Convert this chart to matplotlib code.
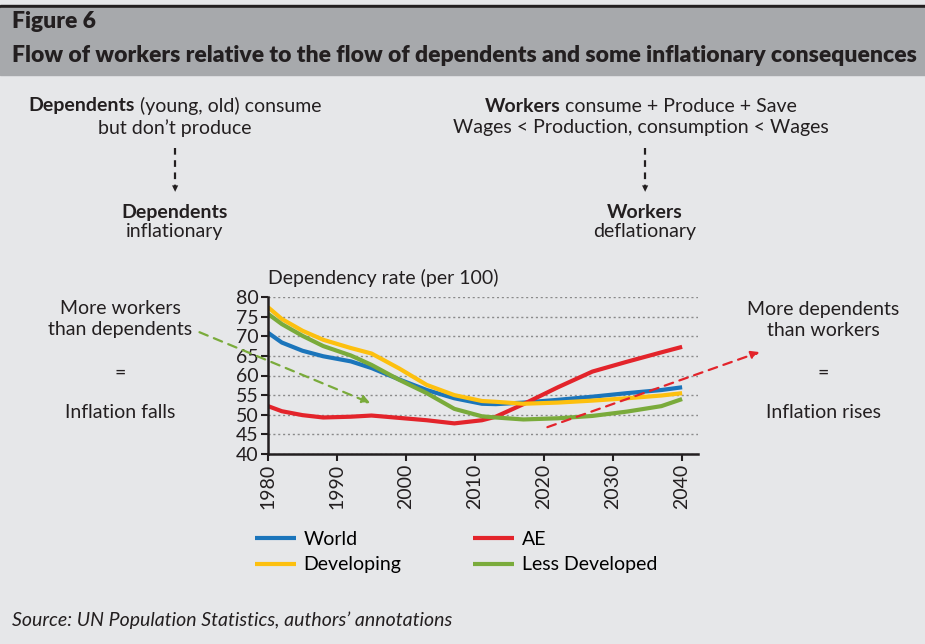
'''
Figure 6: dependency rates with annotations on workers vs dependents
'''
import numpy as np
import matplotlib.pyplot as plt

plt.rcParams['font.family'] = ['Lato', 'DejaVu Sans']

# Data
years = [1980, 1982, 1985, 1988, 1992, 1995, 1999, 2003, 2007, 2011,
         2013, 2017, 2022, 2027, 2032, 2037, 2040]
world = [70.9, 68.4, 66.3, 64.9, 63.6, 61.9, 59.0, 56.3, 54.2, 52.8,
         52.7, 53.1, 53.8, 54.6, 55.5, 56.3, 57.0]
ae = [52.2, 50.9, 49.9, 49.3, 49.5, 49.8, 49.2, 48.6, 47.8, 48.6,
      49.5, 52.7, 57.0, 61.0, 63.5, 65.9, 67.3]
developing = [77.4, 74.4, 71.4, 69.1, 67.0, 65.6, 61.8, 57.6, 55.0, 53.5,
              53.3, 52.8, 53.1, 53.6, 54.2, 54.9, 55.5]
less_dev = [75.7, 73.1, 70.1, 67.5, 65.1, 62.7, 58.9, 55.5, 51.5, 49.6,
            49.3, 48.8, 49.1, 49.7, 50.8, 52.2, 54.0]
series_names = ['World', 'AE', 'Developing', 'Less Developed']
colors = ['#1b75bb', '#e3242b', '#fdc00f', '#7aab3b']

bg = '#e6e7e9'
tc = '#231f20'
FS = 14
W, H = 925, 644
fig = plt.figure(figsize=(9.25, 6.44), dpi=100, facecolor=bg)

# header band
fig.patches.append(plt.Rectangle((0, 1 - 8/H), 1, 3/H, transform=fig.transFigure,
                                 color=tc, zorder=0))
fig.patches.append(plt.Rectangle((0, 1 - 75/H), 1, 67/H, transform=fig.transFigure,
                                 color='#a7a9ac', zorder=0))
fig.text(12/W, 1 - 22/H, 'Figure 6', fontsize=16.5, fontweight='heavy',
         color=tc, va='center')
fig.text(12/W, 1 - 56/H,
         'Flow of workers relative to the flow of dependents and some inflationary consequences',
         fontsize=16.5, fontweight='heavy', color=tc, va='center')

# main axes
ax = fig.add_axes([268/W, 1 - 454/H, 430/W, 157/H])
ax.set_facecolor(bg)
for vals, name, c in zip([world, ae, developing, less_dev], series_names, colors):
    ax.plot(years, vals, color=c, lw=3, label=name, solid_capstyle='butt')

ax.set_xlim(1980, 2042.3)
ax.set_ylim(40, 80)
ax.set_yticks(np.arange(40, 81, 5))
ax.set_xticks(np.arange(1980, 2041, 10))
ax.set_xticklabels([str(y) for y in range(1980, 2041, 10)], rotation=90)
ax.tick_params(labelsize=FS, colors=tc, length=5, width=1.5, direction='out', pad=2)
ax.yaxis.grid(True, linestyle=(0, (1.5, 2)), color='#8a8a8a', lw=1)
ax.set_axisbelow(True)
for s in ['top', 'right']:
    ax.spines[s].set_visible(False)
for s in ['left', 'bottom']:
    ax.spines[s].set_linewidth(1.8)
    ax.spines[s].set_color(tc)
ax.text(0, 1.065, 'Dependency rate (per 100)', transform=ax.transAxes, fontsize=FS,
        color=tc, ha='left', va='bottom')

# dashed trend arrows
ax.annotate('', xy=(1995.2, 52.7), xytext=(1969.7, 71.3), annotation_clip=False,
            arrowprops=dict(arrowstyle='-|>', color='#7aab3b', lw=1.6, ls=(0, (4, 3)),
                            mutation_scale=12))
ax.annotate('', xy=(2051.6, 66.2), xytext=(2020.1, 46.6), annotation_clip=False,
            arrowprops=dict(arrowstyle='-|>', color='#e3242b', lw=1.6, ls=(0, (4, 3)),
                            mutation_scale=12))

# legend: two columns placed separately
lines = ax.get_lines()
for hs, labs, x in [([lines[0], lines[2]], ['World', 'Developing'], 255),
                    ([lines[1], lines[3]], ['AE', 'Less Developed'], 473)]:
    fig.legend(hs, labs, loc='center left', bbox_to_anchor=(x/W, 1 - 552/H),
               frameon=False, fontsize=FS, handlelength=2.1, handletextpad=0.4,
               labelspacing=0.45, borderpad=0, borderaxespad=0)


# annotations
def line(x, y, s, **kw):
    fig.text(x/W, 1 - y/H, s, ha='center', va='center', fontsize=FS, color=tc, **kw)


def mixed(xc, y, bold, rest):
    # bold word followed by regular text, centred on xc
    r = fig.canvas.get_renderer()
    t1 = fig.text(0, 1 - y/H, bold, fontweight='bold', fontsize=FS, color=tc, va='center')
    t2 = fig.text(0, 1 - y/H, ' ' + rest, fontsize=FS, color=tc, va='center')
    w1 = t1.get_window_extent(r).width
    w2 = t2.get_window_extent(r).width
    x0 = xc - (w1 + w2) / 2
    t1.set_x(x0/W)
    t2.set_x((x0 + w1)/W)


mixed(175, 106, 'Dependents', '(young, old) consume')
line(175, 128, 'but don\u2019t produce')
line(175, 212, 'Dependents', fontweight='bold')
line(175, 232, 'inflationary')

mixed(641, 106, 'Workers', 'consume + Produce + Save')
line(641, 128, 'Wages < Production, consumption < Wages')
line(645, 212, 'Workers', fontweight='bold')
line(645, 232, 'deflationary')

for x in [175, 645]:
    fig.add_artist(plt.Line2D([x/W, x/W], [1 - 148/H, 1 - 186/H], color=tc,
                              lw=1.6, ls=(0, (3, 2.5)), transform=fig.transFigure))
    fig.text(x/W, 1 - 189/H, '\u25BE', ha='center', va='center', fontsize=9,
             color=tc, family='DejaVu Sans')

line(120, 309, 'More workers')
line(120, 330, 'than dependents')
line(120, 373, '=')
line(120, 413, 'Inflation falls')
line(823, 309, 'More dependents')
line(823, 330, 'than workers')
line(823, 373, '=')
line(823, 413, 'Inflation rises')

fig.text(12/W, 1 - 620/H, 'Source: UN Population Statistics, authors\u2019 annotations',
         fontsize=FS, style='italic', color=tc, va='center')

fig.savefig('out.png', dpi=100, facecolor=bg)
